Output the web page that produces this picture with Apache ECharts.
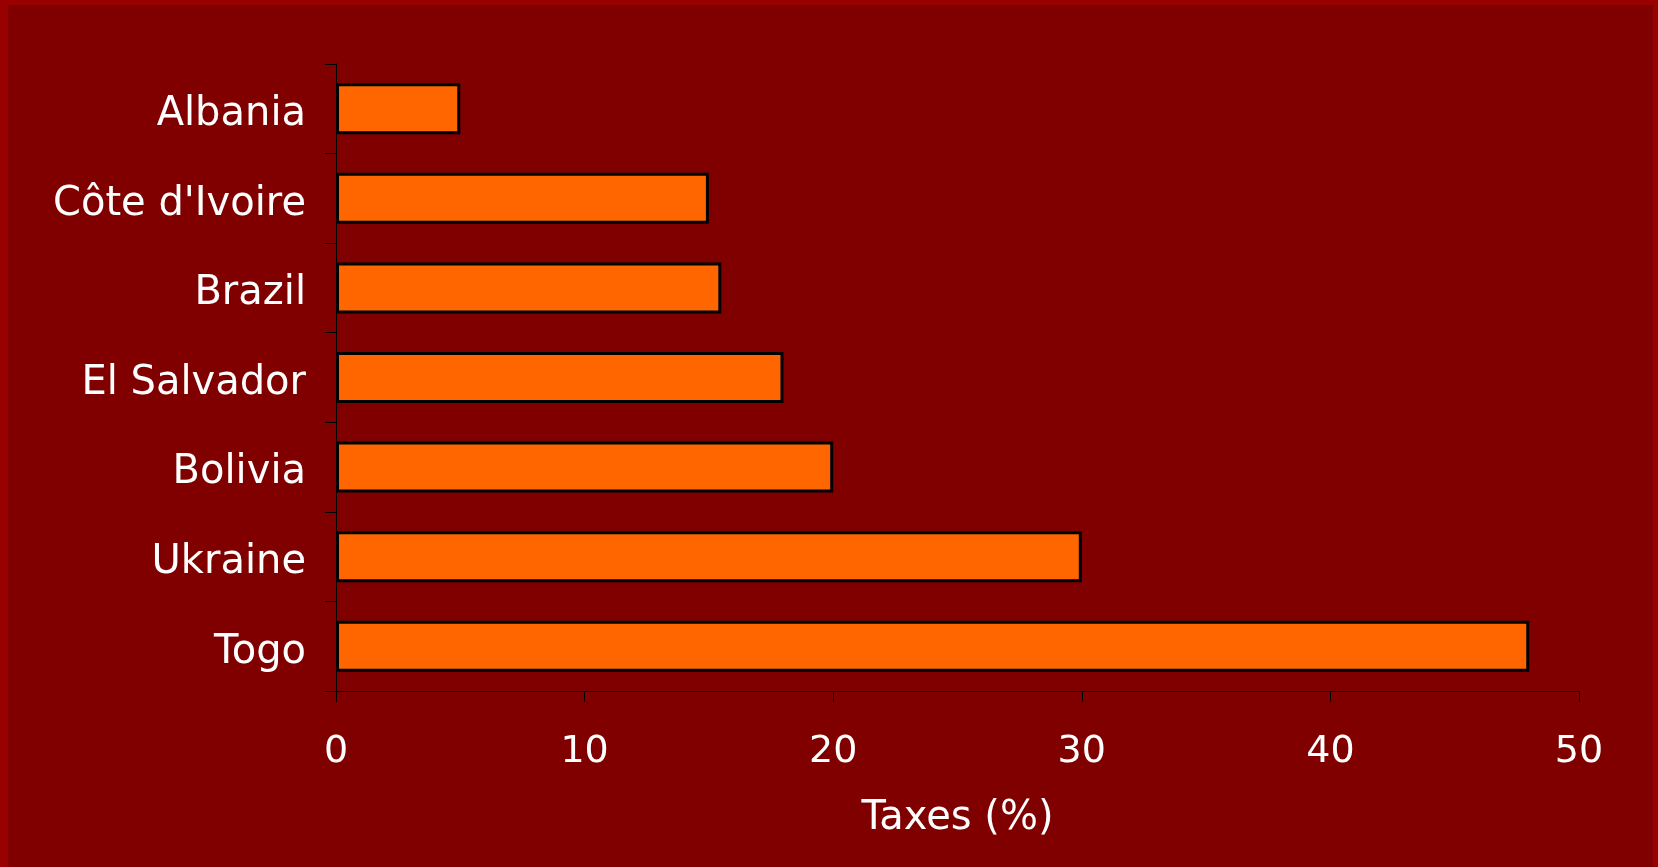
<!DOCTYPE html>
<html>
<head>
<meta charset="utf-8">
<title>Taxes (%)</title>
<script src="https://cdn.jsdelivr.net/npm/echarts@6/dist/echarts.min.js"></script>
<style>
  html, body { margin: 0; padding: 0; background: #800000; }
  #frame {
    width: 1658px; height: 867px; box-sizing: border-box;
    border-left: 8px solid #990000;
    border-top: 5px solid #990000;
    border-right: 5px solid #990000;
    background: #800000;
  }
  #chart { width: 100%; height: 100%; }
</style>
</head>
<body>
<div id="frame"><div id="chart"></div></div>
<script>
// Countries, listed top to bottom
const countries = ['Albania', "Côte d'Ivoire", 'Brazil', 'El Salvador', 'Bolivia', 'Ukraine', 'Togo'];
// Taxes as a percentage
const taxes = [5, 15, 15.5, 18, 20, 30, 48];
// Value axis range and step
const axisMin = 0;
const axisMax = 50;
const axisStep = 10;

const font = 'DejaVu Sans';
const chart = echarts.init(document.getElementById('chart'), null, { renderer: 'canvas' });

chart.setOption({
  backgroundColor: '#800000',
  animation: false,
  grid: { left: 328, right: 74, top: 59, bottom: 176, containLabel: false },
  xAxis: {
    type: 'value',
    min: axisMin,
    max: axisMax,
    interval: axisStep,
    name: 'Taxes (%)',
    nameLocation: 'middle',
    nameGap: 108,
    nameTextStyle: { color: '#ffffff', fontFamily: font, fontSize: 40 },
    axisLine: { show: true, lineStyle: { color: '#000000', width: 1 } },
    axisTick: { show: true, inside: false, length: 11, lineStyle: { color: '#000000', width: 1 } },
    axisLabel: { color: '#ffffff', fontFamily: font, fontSize: 38, margin: 42 },
    splitLine: { show: false }
  },
  yAxis: {
    type: 'category',
    inverse: true,
    data: countries,
    axisLine: { show: true, lineStyle: { color: '#000000', width: 1 } },
    axisTick: { show: true, inside: false, length: 11, lineStyle: { color: '#000000', width: 1 } },
    axisLabel: {
      margin: 30,
      formatter: '{n|{value}}',
      rich: {
        // country names sit a little below the band centre
        n: { color: '#ffffff', fontFamily: font, fontSize: 40, padding: [12, 0, 0, 0] }
      }
    },
    splitLine: { show: false }
  },
  series: [{
    type: 'bar',
    data: taxes,
    barWidth: 51,
    itemStyle: { color: '#ff6600', borderColor: '#000000', borderWidth: 3 }
  }]
});
</script>
</body>
</html>
